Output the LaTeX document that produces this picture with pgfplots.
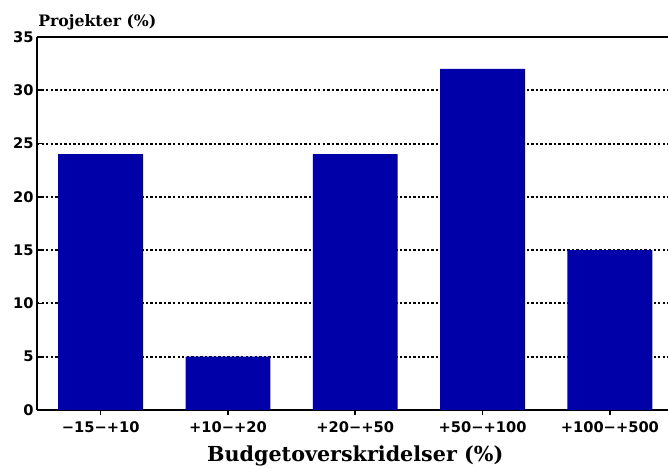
\documentclass[border=0pt]{standalone}
\usepackage{pgfplots}
\pgfplotsset{compat=1.18}
\usepackage{fontspec}
\setmainfont{DejaVu Serif}
\newfontfamily\tickfont{DejaVu Sans}
\definecolor{barblue}{HTML}{0000A8}
\begin{document}
\begin{tikzpicture}
\clip (0,0) rectangle (501pt,351pt);
\begin{axis}[
  at={(27.75pt,43.5pt)}, anchor=south west,
  scale only axis, width=477.4pt, height=279.75pt,
  xmin=-0.5, xmax=4.5, ymin=0, ymax=35,
  axis x line=box, axis y line=left,
  axis line style={line width=2.2pt, -},
  xtick={0,1,2,3,4},
  xticklabels={−15−+10,+10−+20,+20−+50,+50−+100,+100−+500},
  xtick pos=bottom, ytick pos=left,
  ytick={0,5,...,35},
  major tick length=4pt,
  tick style={line width=1.2pt, black},
  xtick align=inside, ytick align=inside,
  ymajorgrids, grid style={line width=1.5pt, black, dash pattern=on 1.8pt off 1.6pt},
  ticklabel style={font=\tickfont\bfseries\fontsize{11}{12}\selectfont},
  /pgf/number format/assume math mode=true,
  xticklabel style={yshift=-1pt},
  yticklabel style={xshift=1pt},
  ybar, bar width=0.667,
  xlabel={Budgetoverskridelser (\%)},
  xlabel style={font=\bfseries\fontsize{15.5}{17}\selectfont, yshift=-3pt},
  clip=false,
]
\addplot[fill=barblue, draw=none] coordinates {(0,24) (1,5) (2,24) (3,32) (4,15)};
\end{axis}
\node[anchor=base west, font=\bfseries\fontsize{11.8}{13}\selectfont, inner sep=0pt] at (28.5pt,331pt) {Projekter (\%)};
\end{tikzpicture}
\end{document}
